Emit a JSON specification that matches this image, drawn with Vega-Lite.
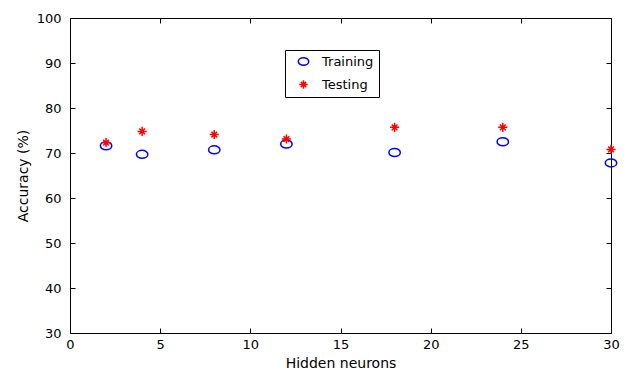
{
  "$schema": "https://vega.github.io/schema/vega-lite/v6.json",
  "width": 541,
  "height": 315,
  "autosize": {"type": "none"},
  "padding": {"left": 70, "top": 18, "right": 16, "bottom": 42},
  "background": "white",
  "config": {
    "view": {"stroke": null},
    "font": "DejaVu Sans",
    "axis": {
      "grid": false,
      "domainColor": "black",
      "domainWidth": 1,
      "tickColor": "black",
      "tickSize": -5,
      "labelFontSize": 13,
      "labelColor": "black",
      "titleFontSize": 14,
      "titleFontWeight": "normal",
      "titleColor": "black",
      "labelFont": "DejaVu Sans",
      "titleFont": "DejaVu Sans"
    },
    "legend": {
      "labelFont": "DejaVu Sans",
      "labelFontSize": 13,
      "labelColor": "black"
    }
  },
  "data": {
    "values": [
      {"neurons": 2, "accuracy": 71.6, "set": "Training"},
      {"neurons": 4, "accuracy": 69.7, "set": "Training"},
      {"neurons": 8, "accuracy": 70.7, "set": "Training"},
      {"neurons": 12, "accuracy": 72.0, "set": "Training"},
      {"neurons": 18, "accuracy": 70.1, "set": "Training"},
      {"neurons": 24, "accuracy": 72.5, "set": "Training"},
      {"neurons": 30, "accuracy": 67.8, "set": "Training"},
      {"neurons": 2, "accuracy": 72.3, "set": "Testing"},
      {"neurons": 4, "accuracy": 74.8, "set": "Testing"},
      {"neurons": 8, "accuracy": 74.1, "set": "Testing"},
      {"neurons": 12, "accuracy": 73.1, "set": "Testing"},
      {"neurons": 18, "accuracy": 75.7, "set": "Testing"},
      {"neurons": 24, "accuracy": 75.7, "set": "Testing"},
      {"neurons": 30, "accuracy": 70.8, "set": "Testing"}
    ]
  },
  "layer": [
    {
      "mark": {"type": "point", "filled": false, "strokeWidth": 1.5, "size": 130, "opacity": 1, "clip": false},
      "encoding": {
        "x": {
          "field": "neurons", "type": "quantitative",
          "scale": {"domain": [0, 30], "nice": false},
          "axis": {"orient": "bottom", "values": [0, 5, 10, 15, 20, 25, 30], "title": "Hidden neurons", "labelPadding": 10, "titlePadding": 5, "labelFlush": false}
        },
        "y": {
          "field": "accuracy", "type": "quantitative",
          "scale": {"domain": [30, 100], "nice": false, "zero": false},
          "axis": {"orient": "left", "values": [30, 40, 50, 60, 70, 80, 90, 100], "title": "Accuracy (%)", "labelPadding": 14, "titlePadding": 6}
        },
        "color": {
          "field": "set", "type": "nominal",
          "scale": {"domain": ["Training", "Testing"], "range": ["#0000ff", "#ff0000"]},
          "legend": {
            "title": null,
            "orient": "none",
            "legendX": 215,
            "legendY": 32,
            "strokeColor": "black",
            "fillColor": "white",
            "padding": 5,
            "symbolOffset": 7,
            "symbolSize": 110,
            "symbolStrokeWidth": 1.5,
            "labelOffset": 12,
            "rowPadding": 8
          }
        },
        "shape": {
          "field": "set", "type": "nominal",
          "scale": {"domain": ["Training", "Testing"], "range": ["M-1,0A1,0.7 0 1,0 1,0A1,0.7 0 1,0 -1,0Z", "M-0.8,0L0.8,0M0,-0.8L0,0.8M-0.5,-0.5L0.5,0.5M-0.5,0.5L0.5,-0.5"]},
          "legend": null
        }
      }
    },
    {
      "mark": {"type": "point", "opacity": 0},
      "encoding": {
        "x": {
          "field": "neurons", "type": "quantitative",
          "axis": {"orient": "top", "values": [0, 5, 10, 15, 20, 25, 30], "labels": false, "title": null}
        },
        "y": {
          "field": "accuracy", "type": "quantitative",
          "axis": {"orient": "right", "values": [30, 40, 50, 60, 70, 80, 90, 100], "labels": false, "title": null}
        }
      }
    }
  ],
  "resolve": {"axis": {"x": "independent", "y": "independent"}}
}
